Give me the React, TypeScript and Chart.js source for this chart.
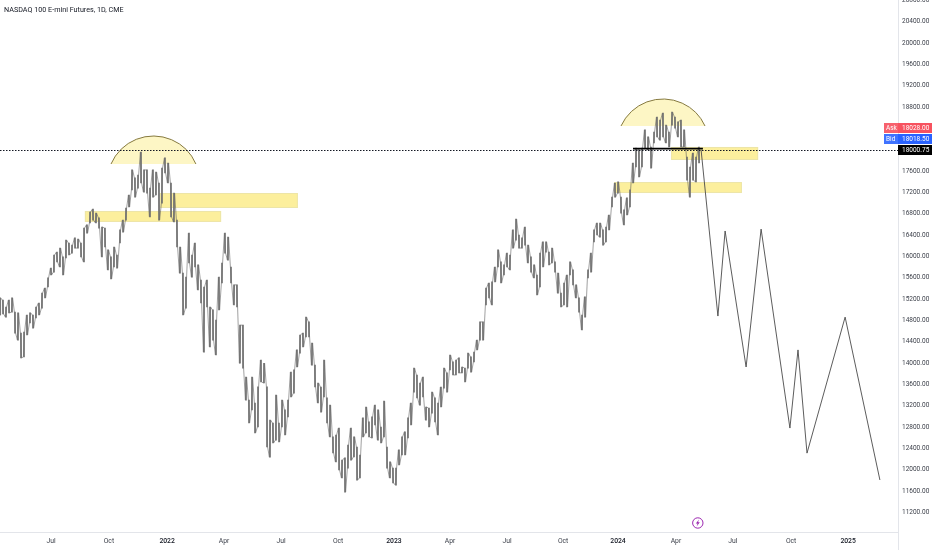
import React, { useEffect, useRef } from "react";
import { Chart, registerables } from "chart.js";

Chart.register(...registerables);

const chartTitle = "NASDAQ 100 E-mini Futures, 1D, CME";

const barHigh = [
15220,15180,15050,15180,15220,14955,14940,14560,14580,14900,14940,14900,15050,15125,15310,15405,15595,15780,16025,16080,16155,15990,16305,16250,16210,16345,16325,16250,16530,16590,
16830,16885,16810,16720,16550,16530,16120,15990,16175,16025,16495,16680,16905,17150,17620,17470,17525,17955,17620,17620,17280,17620,17580,17375,17655,17845,17750,17375,17185,16680,
16175,15685,15610,16435,16025,16250,15840,15555,15425,15555,15050,14995,14805,15610,15875,16435,16360,15800,15465,15465,14710,14710,13735,13305,13735,13250,13555,14055,13995,13555,
12930,12875,13400,12875,13305,13120,13305,13830,13870,14245,14525,14560,14860,14770,14375,13960,13625,13550,14055,13345,13210,12615,12650,12780,12180,12220,12460,12780,12615,12425,
12275,12970,13175,12895,12990,13210,13120,12800,13285,12425,12145,12030,12030,12370,12615,12710,12970,13250,13905,13775,13625,13735,13175,13155,13455,13345,13250,13550,13905,13815,
14150,14020,14055,14095,13925,13905,14185,14115,14205,14430,14770,14770,15405,15500,15520,15800,16120,15895,15840,16060,16025,16495,16700,16400,16345,16550,16210,15990,15840,15650,
16060,16270,16270,16080,16155,15895,15685,15310,15500,15650,15895,15745,15465,15220,14900,15240,15745,16060,16495,16625,16625,16495,16550,16775,17110,17375,17395,17110,16870,17095,
17245,17750,18030,17995,18030,18370,18240,18050,18330,18610,18555,18685,18460,18330,18705,18610,18520,18555,18370,17860,17675,17935,17860,18050,
];

const barLow = [
14900,14920,14860,14940,14955,14560,14430,14095,14115,14525,14750,14655,14845,14900,15030,15220,15425,15650,15705,15895,15800,15650,15970,16025,16060,16155,16155,15990,15895,16435,
16625,16680,16625,16530,15990,16175,15745,15575,15800,15780,16250,16455,16680,16925,17245,17110,17280,17375,17205,17185,16740,17110,17150,16680,16995,17565,17375,16740,16645,16175,
15685,14900,15030,15875,15610,15800,15370,15125,14205,15050,14300,14430,14150,14995,15500,16060,15930,15500,15090,15050,13995,13905,13305,12875,13120,12690,12800,13645,13625,12425,
12235,12500,12555,12520,12800,12650,12990,13365,13435,13925,14185,14300,14490,14490,13960,13550,13250,13080,13365,12875,12615,12315,12145,11995,11845,11580,12030,12180,12240,11805,
11845,12615,12690,12615,12595,12840,12555,12500,12615,12030,11845,11750,11710,12090,12275,12275,12595,12840,13455,13345,13210,13365,12930,12800,13060,12895,12650,13175,13530,13455,
13870,13775,13775,13815,13815,13645,13905,13830,14020,14245,14430,14430,15090,15220,15090,15520,15800,15500,15650,15800,15745,16155,16305,16155,16155,16210,15875,15705,15595,15275,
15425,15800,16080,15840,15875,15705,15310,15050,15090,15050,15650,15465,15220,14955,14620,14860,15595,15705,16270,16400,16360,16210,16270,16495,16925,17110,17185,16810,16590,16775,
16925,17375,17675,17490,17675,18030,17995,17655,18125,18240,18180,18240,18125,18050,18460,18405,18240,18050,18050,17430,17110,17430,17395,17750,
];

const projectionX = [233.7, 239.3, 241.7, 248.7, 253.7, 263.3, 266, 269, 281.7, 293.3];
const projectionY = [17994, 14880, 16475, 13925, 16510, 12780, 14245, 12310, 14860, 11806];

const xTickValues = [17, 36.3, 55.7, 74.7, 93.7, 112.7, 131.3, 150, 169, 187.7, 206, 225.3, 244.3, 263.7, 282.7];
const xTickLabels = ["Jul", "Oct", "2022", "Apr", "Jul", "Oct", "2023", "Apr", "Jul", "Oct", "2024", "Apr", "Jul", "Oct", "2025"];
const yTickValues = [11200, 11600, 12000, 12400, 12800, 13200, 13600, 14000, 14400, 14800, 15200, 15600, 16000, 16400, 16800, 17200, 17600, 18000, 18400, 18800, 19200, 19600, 20000, 20400, 20800];

const zoneStart = [28.3, 53.3, 204.7, 223.7];
const zoneEnd = [73.7, 99.3, 247.3, 252.7];
const zoneTop = [16850, 17187, 17393, 18050];
const zoneBottom = [16645, 16906, 17187, 17806];

const domeStart = [37, 207];
const domeEnd = [65.3, 235];
const domeBase = [17731, 18444];
const domeTop = [18256, 18950];

const lastPrice = 18000.75;
const askPrice = 18028.0;
const bidPrice = 18018.5;
const resistanceStart = 211;
const resistanceEnd = 234.3;
const resistancePrice = 18020;
const flashX = 232.6;
const flashY = 11000;

const FONT = "Roboto, sans-serif";

const rangePath: { x: number; y: number }[] = [];
barHigh.forEach((h, i) => {
  rangePath.push({ x: i - 0.2, y: i % 2 ? h : barLow[i] });
  rangePath.push({ x: i + 0.2, y: i % 2 ? barLow[i] : h });
});

const drawPlugin = {
  id: "tvOverlays",
  beforeDatasetsDraw(chart: any) {
    const { ctx, scales: { x, y } } = chart;
    ctx.save();
    zoneStart.forEach((s, i) => {
      const l = x.getPixelForValue(s), r = x.getPixelForValue(zoneEnd[i]);
      const t = y.getPixelForValue(zoneTop[i]), b = y.getPixelForValue(zoneBottom[i]);
      ctx.fillStyle = "rgba(251,236,140,0.85)";
      ctx.fillRect(l, t, r - l, b - t);
      ctx.strokeStyle = "rgba(235,228,170,0.9)";
      ctx.lineWidth = 1;
      ctx.strokeRect(l + 0.5, t + 0.5, r - l - 1, b - t - 1);
    });
    domeStart.forEach((s, i) => {
      const l = x.getPixelForValue(s), r = x.getPixelForValue(domeEnd[i]);
      const base = y.getPixelForValue(domeBase[i]), top = y.getPixelForValue(domeTop[i]);
      const half = (r - l) / 2, sag = base - top;
      const R = (half * half + sag * sag) / (2 * sag);
      const cx = (l + r) / 2, cy = top + R;
      const a = Math.asin(half / R);
      ctx.beginPath();
      ctx.arc(cx, cy, R, -Math.PI / 2 - a, -Math.PI / 2 + a);
      ctx.closePath();
      ctx.fillStyle = "rgba(252,243,178,0.75)";
      ctx.fill();
      ctx.beginPath();
      ctx.arc(cx, cy, R, -Math.PI / 2 - a, -Math.PI / 2 + a);
      ctx.strokeStyle = "#85793f";
      ctx.lineWidth = 1;
      ctx.stroke();
    });
    ctx.restore();
  },
  afterDatasetsDraw(chart: any) {
    const { ctx, scales: { x, y }, chartArea, width, height } = chart;
    ctx.save();
    // axis divider
    ctx.strokeStyle = "#e3e5ea";
    ctx.lineWidth = 1;
    ctx.beginPath();
    ctx.moveTo(chartArea.right + 0.5, 0);
    ctx.lineTo(chartArea.right + 0.5, height);
    ctx.stroke();

    // resistance level
    ctx.strokeStyle = "#000";
    ctx.lineWidth = 1.6;
    ctx.beginPath();
    const ry = y.getPixelForValue(resistancePrice);
    ctx.moveTo(x.getPixelForValue(resistanceStart), ry);
    ctx.lineTo(x.getPixelForValue(resistanceEnd), ry);
    ctx.stroke();

    // last price dotted line
    const ly = Math.round(y.getPixelForValue(lastPrice)) + 0.5;
    ctx.strokeStyle = "#131722";
    ctx.lineWidth = 1;
    ctx.setLineDash([1.5, 1.5]);
    ctx.beginPath();
    ctx.moveTo(0, ly);
    ctx.lineTo(chartArea.right, ly);
    ctx.stroke();
    ctx.setLineDash([]);

    // price tags
    const tag = (bg: string, bgLeft: string | null, label: string | null, value: number, cy: number) => {
      ctx.fillStyle = bg;
      ctx.fillRect(chartArea.right, cy - 5, width - chartArea.right, 10);
      ctx.fillStyle = "#fff";
      ctx.font = `6.5px ${FONT}`;
      ctx.textAlign = "left";
      ctx.textBaseline = "middle";
      if (label && bgLeft) {
        ctx.fillStyle = bgLeft;
        ctx.fillRect(chartArea.right - 14, cy - 5, 14, 10);
        ctx.fillStyle = "#fff";
        ctx.fillText(label, chartArea.right - 12, cy);
      }
      ctx.fillText(value.toFixed(2), chartArea.right + 4, cy);
    };
    tag("#f7525f", "#f7616d", "Ask", askPrice, 128);
    tag("#2962ff", "#3f73ff", "Bid", bidPrice, 139);
    tag("#000", null, null, lastPrice, 150);

    // title
    ctx.fillStyle = "#131722";
    ctx.font = `7.2px ${FONT}`;
    ctx.textAlign = "left";
    ctx.textBaseline = "middle";
    ctx.fillText(chartTitle, 4, 10.5);

    // flash icon
    const fx = x.getPixelForValue(flashX), fy = y.getPixelForValue(flashY);
    ctx.strokeStyle = "#9c27b0";
    ctx.lineWidth = 1;
    ctx.beginPath();
    ctx.arc(fx, fy, 5.2, 0, Math.PI * 2);
    ctx.fillStyle = "#fff";
    ctx.fill();
    ctx.stroke();
    ctx.fillStyle = "#9c27b0";
    ctx.beginPath();
    ctx.moveTo(fx + 1.2, fy - 3.4);
    ctx.lineTo(fx - 2, fy + 0.6);
    ctx.lineTo(fx - 0.2, fy + 0.6);
    ctx.lineTo(fx - 1.2, fy + 3.4);
    ctx.lineTo(fx + 2, fy - 0.8);
    ctx.lineTo(fx + 0.2, fy - 0.8);
    ctx.closePath();
    ctx.fill();
    ctx.restore();
  },
};

export default function App() {
  const ref = useRef<HTMLCanvasElement>(null);
  useEffect(() => {
    document.body.style.margin = "0";
    document.body.style.background = "#fff";
    const noPad = (s: any) => { s.paddingTop = 0; s.paddingBottom = 0; s.paddingLeft = 0; s.paddingRight = 0; };
    const chart = new Chart(ref.current as HTMLCanvasElement, {
      type: "bar",
      data: {
        datasets: [
          {
            type: "line",
            data: projectionX.map((px, i) => ({ x: px, y: projectionY[i] })),
            borderColor: "#4a4a4a",
            borderWidth: 0.9,
            pointRadius: 0,
            tension: 0,
            fill: false,
            order: 3,
          } as any,
          {
            type: "line",
            data: rangePath,
            borderColor: "rgba(85,85,85,0.8)",
            borderWidth: 0.7,
            pointRadius: 0,
            tension: 0,
            fill: false,
            order: 2,
          } as any,
          {
            type: "bar",
            data: barHigh.map((h, i) => ({ x: i, y: [barLow[i], h] })),
            backgroundColor: "#707070",
            barThickness: 1,
            borderWidth: 0,
            order: 1,
          } as any,
        ],
      },
      options: {
        responsive: false,
        animation: false,
        layout: { padding: 0 },
        plugins: { legend: { display: false }, tooltip: { enabled: false }, title: { display: false } },
        scales: {
          x: {
            type: "linear",
            offset: false,
            min: 0,
            max: 299.33,
            grid: { display: false, drawTicks: false },
            border: { display: true, color: "#e3e5ea" },
            afterBuildTicks: (s: any) => { s.ticks = xTickValues.map((value) => ({ value })); },
            afterFit: (s: any) => { s.height = 18; noPad(s); },
            ticks: {
              autoSkip: false,
              maxRotation: 0,
              padding: 5,
              color: (c: any) => (/^\d+$/.test(xTickLabels[c.index] ?? "") ? "#131722" : "#3a3e48"),
              font: (c: any) => ({ family: "Roboto, sans-serif", size: 6.8, weight: /^\d+$/.test(xTickLabels[c.index] ?? "") ? "500" : "400" }),
              callback: (_v: any, i: number) => xTickLabels[i],
            },
          },
          y: {
            type: "linear",
            position: "right",
            min: 10831,
            max: 20806,
            grid: { display: false, drawTicks: false },
            border: { display: false },
            afterBuildTicks: (s: any) => { s.ticks = yTickValues.map((value) => ({ value })); },
            afterFit: (s: any) => { s.width = 34; noPad(s); },
            ticks: {
              autoSkip: false,
              padding: 4,
              crossAlign: "near",
              color: "#3a3e48",
              font: { family: "Roboto, sans-serif", size: 6.5 },
              callback: (v: any) => Number(v).toFixed(2),
            },
          },
        },
      },
      plugins: [drawPlugin],
    } as any);
    return () => chart.destroy();
  }, []);
  return (
    <canvas
      ref={ref}
      width={932}
      height={550}
      style={{ position: "fixed", left: 0, top: 0, width: 932, height: 550, display: "block" }}
    />
  );
}
